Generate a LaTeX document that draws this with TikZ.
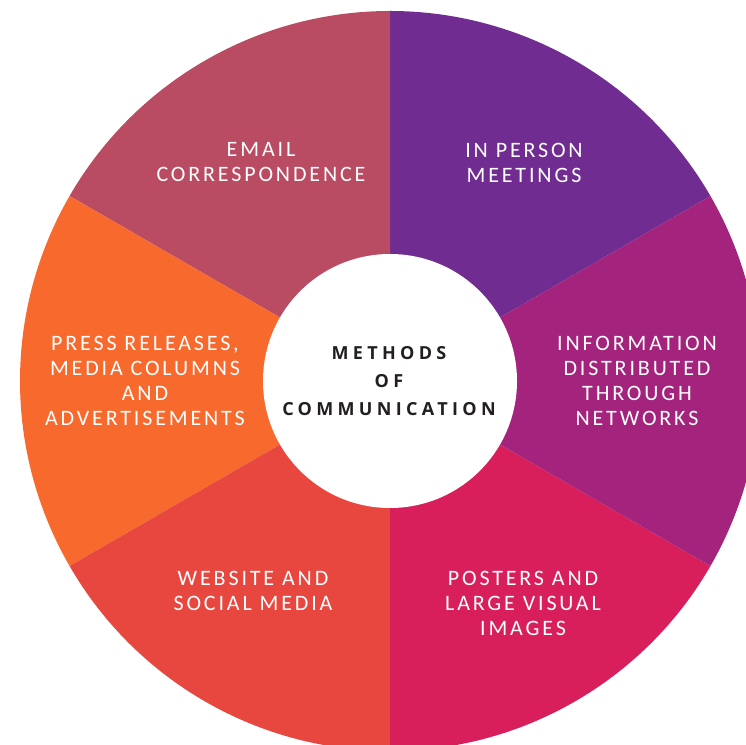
\documentclass[tikz,border=0pt]{standalone}
\usepackage{fontspec}
\setmainfont{Carlito}
\newfontfamily\labelfont[LetterSpace=13]{Carlito}
\newfontfamily\hubfont[LetterSpace=24]{Open Sans}
\definecolor{cRose}{HTML}{B94B62}
\definecolor{cPurple}{HTML}{702C90}
\definecolor{cMagenta}{HTML}{A3237D}
\definecolor{cCrimson}{HTML}{D91F5B}
\definecolor{cCoral}{HTML}{E8473F}
\definecolor{cOrange}{HTML}{F7692D}
\definecolor{cInk}{HTML}{231F20}
\begin{document}
\begin{tikzpicture}[x=1pt,y=1pt,
  seglabel/.style={text=white,align=center,font=\labelfont\fontsize{22}{25}\selectfont,inner sep=0pt},
  hublabel/.style={text=cInk,align=center,font=\hubfont\bfseries\fontsize{18}{28}\selectfont,inner sep=0pt}]
\useasboundingbox (0,0) rectangle (746,744);
\fill[white] (0,0) rectangle (746,744);
\coordinate (C) at (390,363);
\def\R{370}
\begin{scope}
\clip (0,0) rectangle (746,744);
\foreach \a/\b/\col in {30/90/cPurple,90/150/cRose,150/210/cOrange,210/270/cCoral,270/330/cCrimson,330/390/cMagenta}{
  \fill[\col] (C) -- ++(\a:\R) arc[start angle=\a,end angle=\b,radius=\R] -- cycle;
}
\end{scope}
\fill[white] (C) circle[radius=127];
\node[hublabel] (hub) at (389,363) {METHODS\\OF\\COMMUNICATION};
\node[seglabel] (email) at (261,582) {EMAIL\\CORRESPONDENCE};
\node[seglabel] (person) at (524,581.5) {IN PERSON\\MEETINGS};
\node[seglabel] (press) at (145,363.5) {PRESS RELEASES,\\MEDIA COLUMNS\\AND\\ADVERTISEMENTS};
\node[seglabel] (info) at (637,363.5) {INFORMATION\\DISTRIBUTED\\THROUGH\\NETWORKS};
\node[seglabel] (web) at (253,153.5) {WEBSITE AND\\SOCIAL MEDIA};
\node[seglabel] (posters) at (523,141) {POSTERS AND\\LARGE VISUAL\\IMAGES};
\end{tikzpicture}
\end{document}
